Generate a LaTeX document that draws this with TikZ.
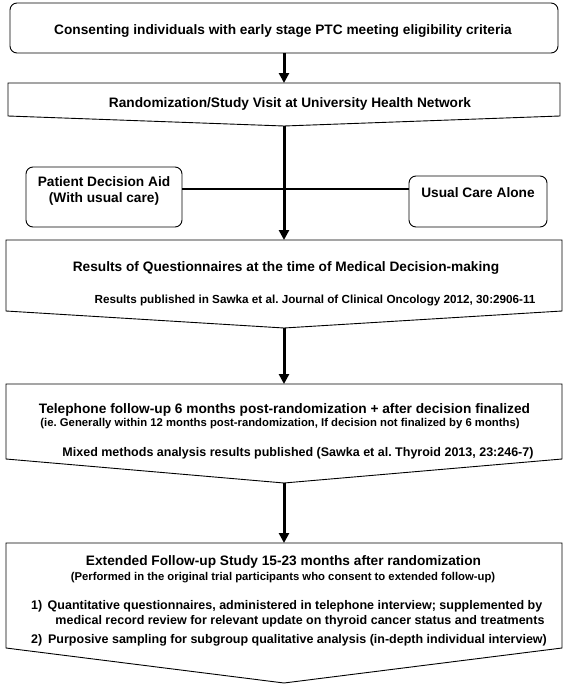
\documentclass[tikz,border=0pt]{standalone}
\usepackage{fontspec}
\setmainfont{Liberation Sans}
\usetikzlibrary{arrows.meta}
\frenchspacing
\begin{document}
\begin{tikzpicture}[x=1pt,y=-1pt,
  box/.style={draw, line width=0.9pt},
  region/.style={inner sep=0pt, outer sep=0pt},
  rbox/.style={draw, line width=0.9pt, rounded corners=7pt, inner sep=0pt, outer sep=0pt},
  lbl/.style={inner sep=0pt, font=\bfseries\fontsize{13.7}{16}\selectfont, align=center},
  sub/.style={inner sep=0pt, font=\bfseries\fontsize{11.7}{14}\selectfont},
  item/.style={inner sep=0pt, font=\bfseries\fontsize{12.5}{15}\selectfont},
  small/.style={inner sep=0pt, font=\bfseries\fontsize{11.3}{13}\selectfont},
  flow/.style={line width=3pt, -{Triangle[length=10pt,width=10pt]}},
  link/.style={line width=1.6pt}]
\useasboundingbox (0,0) rectangle (568,685);
\fill[white] (0,0) rectangle (568,685);

% Box 1
\node[rbox, minimum width=548pt, minimum height=50pt] (b1) at (284,28) {};
\node[lbl] (t1) at (283,31) {Consenting individuals with early stage PTC meeting eligibility criteria};

% Box 2
\node[region, minimum width=552pt, minimum height=33pt] (b2) at (284,99.5) {};
\coordinate (b2tip) at (284,126);
\draw[box] (b2.south west) -- (b2.north west) -- (b2.north east) -- (b2.south east) -- (b2tip) -- cycle;
\node[lbl] (t2) at (290,104) {Randomization/Study Visit at University Health Network};

% Arms
\node[rbox, minimum width=156pt, minimum height=60pt] (pda) at (104,197) {};
\node[lbl] (tpda) at (104,191) {Patient Decision Aid\\(With usual care)};
\node[rbox, minimum width=138pt, minimum height=51pt] (uca) at (478,201.5) {};
\node[lbl] (tuca) at (478,193) {Usual Care Alone};
\coordinate (hy) at (284,189);

% Box 3
\node[region, minimum width=556pt, minimum height=71pt] (b3) at (284,275.5) {};
\coordinate (b3tip) at (284,328);
\draw[box] (b3.south west) -- (b3.north west) -- (b3.north east) -- (b3.south east) -- (b3tip) -- cycle;
\node[lbl] (t3a) at (286,268) {Results of Questionnaires at the time of Medical Decision-making};
\node[sub] (t3b) at (315,300) {Results published in Sawka et al. Journal of Clinical Oncology 2012, 30:2906-11};

% Box 4
\node[region, minimum width=556pt, minimum height=75pt] (b4) at (284,421.5) {};
\coordinate (b4tip) at (284,483);
\draw[box] (b4.south west) -- (b4.north west) -- (b4.north east) -- (b4.south east) -- (b4tip) -- cycle;
\node[lbl] (t4a) at (284.5,410) {Telephone follow-up 6 months post-randomization + after decision finalized};
\node[small] (t4b) at (280,424) {(ie. Generally within 12 months post-randomization, If decision not finalized by 6 months)};
\node[item] (t4c) at (298,453) {Mixed methods analysis results published (Sawka et al. Thyroid 2013, 23:246-7)};

% Box 5
\node[region, minimum width=556pt, minimum height=105pt] (b5) at (284,595.5) {};
\coordinate (b5tip) at (284,683);
\draw[box] (b5.south west) -- (b5.north west) -- (b5.north east) -- (b5.south east) -- (b5tip) -- cycle;
\node[lbl] (t5a) at (283.5,562) {Extended Follow-up Study 15-23 months after randomization};
\node[small] (t5b) at (283,578) {(Performed in the original trial participants who consent to extended follow-up)};
\node[item, anchor=west] (n1) at (31,606) {1)};
\node[item] (i1a) at (295,606) {Quantitative questionnaires, administered in telephone interview; supplemented by};
\node[item] (i1b) at (300,621) {medical record review for relevant update on thyroid cancer status and treatments};
\node[item, anchor=west] (n2) at (31,640) {2)};
\node[item] (i2) at (297.5,640) {Purposive sampling for subgroup qualitative analysis (in-depth individual interview)};

% Connectors
\draw[flow] (b1.south) -- (b2.north);
\draw[flow] (b2tip) -- (b3.north);
\draw[link] (pda.east |- hy) -- (uca.west |- hy);
\draw[flow] (b3tip) -- (b4.north);
\draw[flow] (b4tip) -- (b5.north);
\end{tikzpicture}
\end{document}
